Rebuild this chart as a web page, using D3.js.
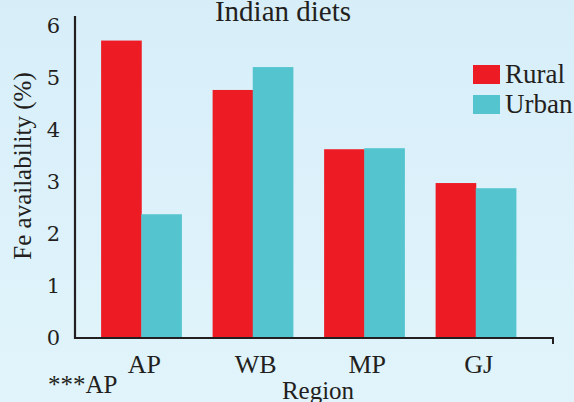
<!DOCTYPE html>
<html><head><meta charset="utf-8">
<script src="https://cdn.jsdelivr.net/npm/d3@7"></script>
<style>html,body{margin:0;padding:0;}svg{display:block;}</style>
</head><body>
<script>
const categories = ["AP", "WB", "MP", "GJ"];
const seriesNames = ["Rural", "Urban"];
const rural = [5.72, 4.77, 3.63, 2.98];
const urban = [2.38, 5.21, 3.65, 2.88];
const yTicks = [0, 1, 2, 3, 4, 5, 6];
const colors = ["#ed1c24", "#54c4cf"];

const W = 574, H = 402;
const FONT = "'Liberation Serif', serif";
const DIGITS = "'DejaVu Serif', serif";
const INK = "#231f20";
const svg = d3.select("body").append("svg").attr("width", W).attr("height", H);
const defs = svg.append("defs");
const g = defs.append("linearGradient").attr("id", "bg").attr("x1", 0).attr("y1", 0).attr("x2", 0).attr("y2", 1);
g.append("stop").attr("offset", "0%").attr("stop-color", "#d7eef9");
g.append("stop").attr("offset", "100%").attr("stop-color", "#e1f4fb");
svg.append("rect").attr("width", W).attr("height", H).attr("fill", "url(#bg)");

const x0 = d3.scaleBand().domain(categories).range([85.5, 531.5]).paddingInner(0.28).paddingOuter(0.14);
const x1 = d3.scaleBand().domain(seriesNames).range([0, x0.bandwidth()]);
const y = d3.scaleLinear().domain([0, 6]).range([338, 26]);

const data = categories.map((c, i) => ({cat: c, vals: [rural[i], urban[i]]}));

const groups = svg.selectAll("g.grp").data(data).join("g").attr("class", "grp")
  .attr("transform", d => `translate(${x0(d.cat)},0)`);
groups.selectAll("rect").data(d => d.vals.map((v, j) => ({s: seriesNames[j], v, j})))
  .join("rect")
  .attr("x", d => x1(d.s)).attr("width", x1.bandwidth() + 0.5)
  .attr("y", d => y(d.v)).attr("height", d => y(0) - y(d.v))
  .attr("fill", d => colors[d.j]);

// axes lines
svg.append("line").attr("x1", 75).attr("x2", 75).attr("y1", 16).attr("y2", 339)
  .attr("stroke", INK).attr("stroke-width", 2.2);
svg.append("line").attr("x1", 74).attr("x2", 553).attr("y1", y(0)).attr("y2", y(0))
  .attr("stroke", INK).attr("stroke-width", 2.2);
svg.append("line").attr("x1", 553).attr("x2", 553).attr("y1", y(0) - 1).attr("y2", y(0) + 6)
  .attr("stroke", INK).attr("stroke-width", 2);

// y tick labels
svg.selectAll("text.yt").data(yTicks).join("text").attr("class", "yt")
  .attr("x", 60).attr("y", d => y(d) - 1).attr("dy", "0.36em")
  .attr("text-anchor", "end").attr("font-family", DIGITS).attr("font-size", 21)
  .attr("fill", INK).text(d => d);

// x tick labels
svg.selectAll("text.xt").data(categories).join("text").attr("class", "xt")
  .attr("x", d => x0(d) + x0.bandwidth() / 2 + 3).attr("y", 373)
  .attr("text-anchor", "middle").attr("font-family", FONT).attr("font-size", 26)
  .attr("fill", INK).text(d => d);

// title
svg.append("text").attr("x", 283).attr("y", 21).attr("text-anchor", "middle")
  .attr("font-family", FONT).attr("font-size", 29).attr("fill", INK).text("Indian diets");

// axis titles
svg.append("text").attr("x", 318).attr("y", 399).attr("text-anchor", "middle")
  .attr("font-family", FONT).attr("font-size", 25).attr("fill", INK).text("Region");
svg.append("text").attr("transform", "translate(31,166) rotate(-90)").attr("text-anchor", "middle")
  .attr("font-family", FONT).attr("font-size", 25).attr("fill", INK).text("Fe availability (%)");
svg.append("text").attr("x", 48).attr("y", 393)
  .attr("font-family", FONT).attr("font-size", 25).attr("fill", INK).text("***AP");

// legend
const leg = svg.selectAll("g.leg").data(seriesNames).join("g").attr("class", "leg")
  .attr("transform", (d, i) => `translate(473,${65 + i * 30})`);
leg.append("rect").attr("width", 27).attr("height", 19).attr("fill", (d, i) => colors[i]);
leg.append("text").attr("x", 32).attr("y", 18).attr("font-family", FONT).attr("font-size", 27)
  .attr("fill", INK).text(d => d);
</script>
</body></html>
